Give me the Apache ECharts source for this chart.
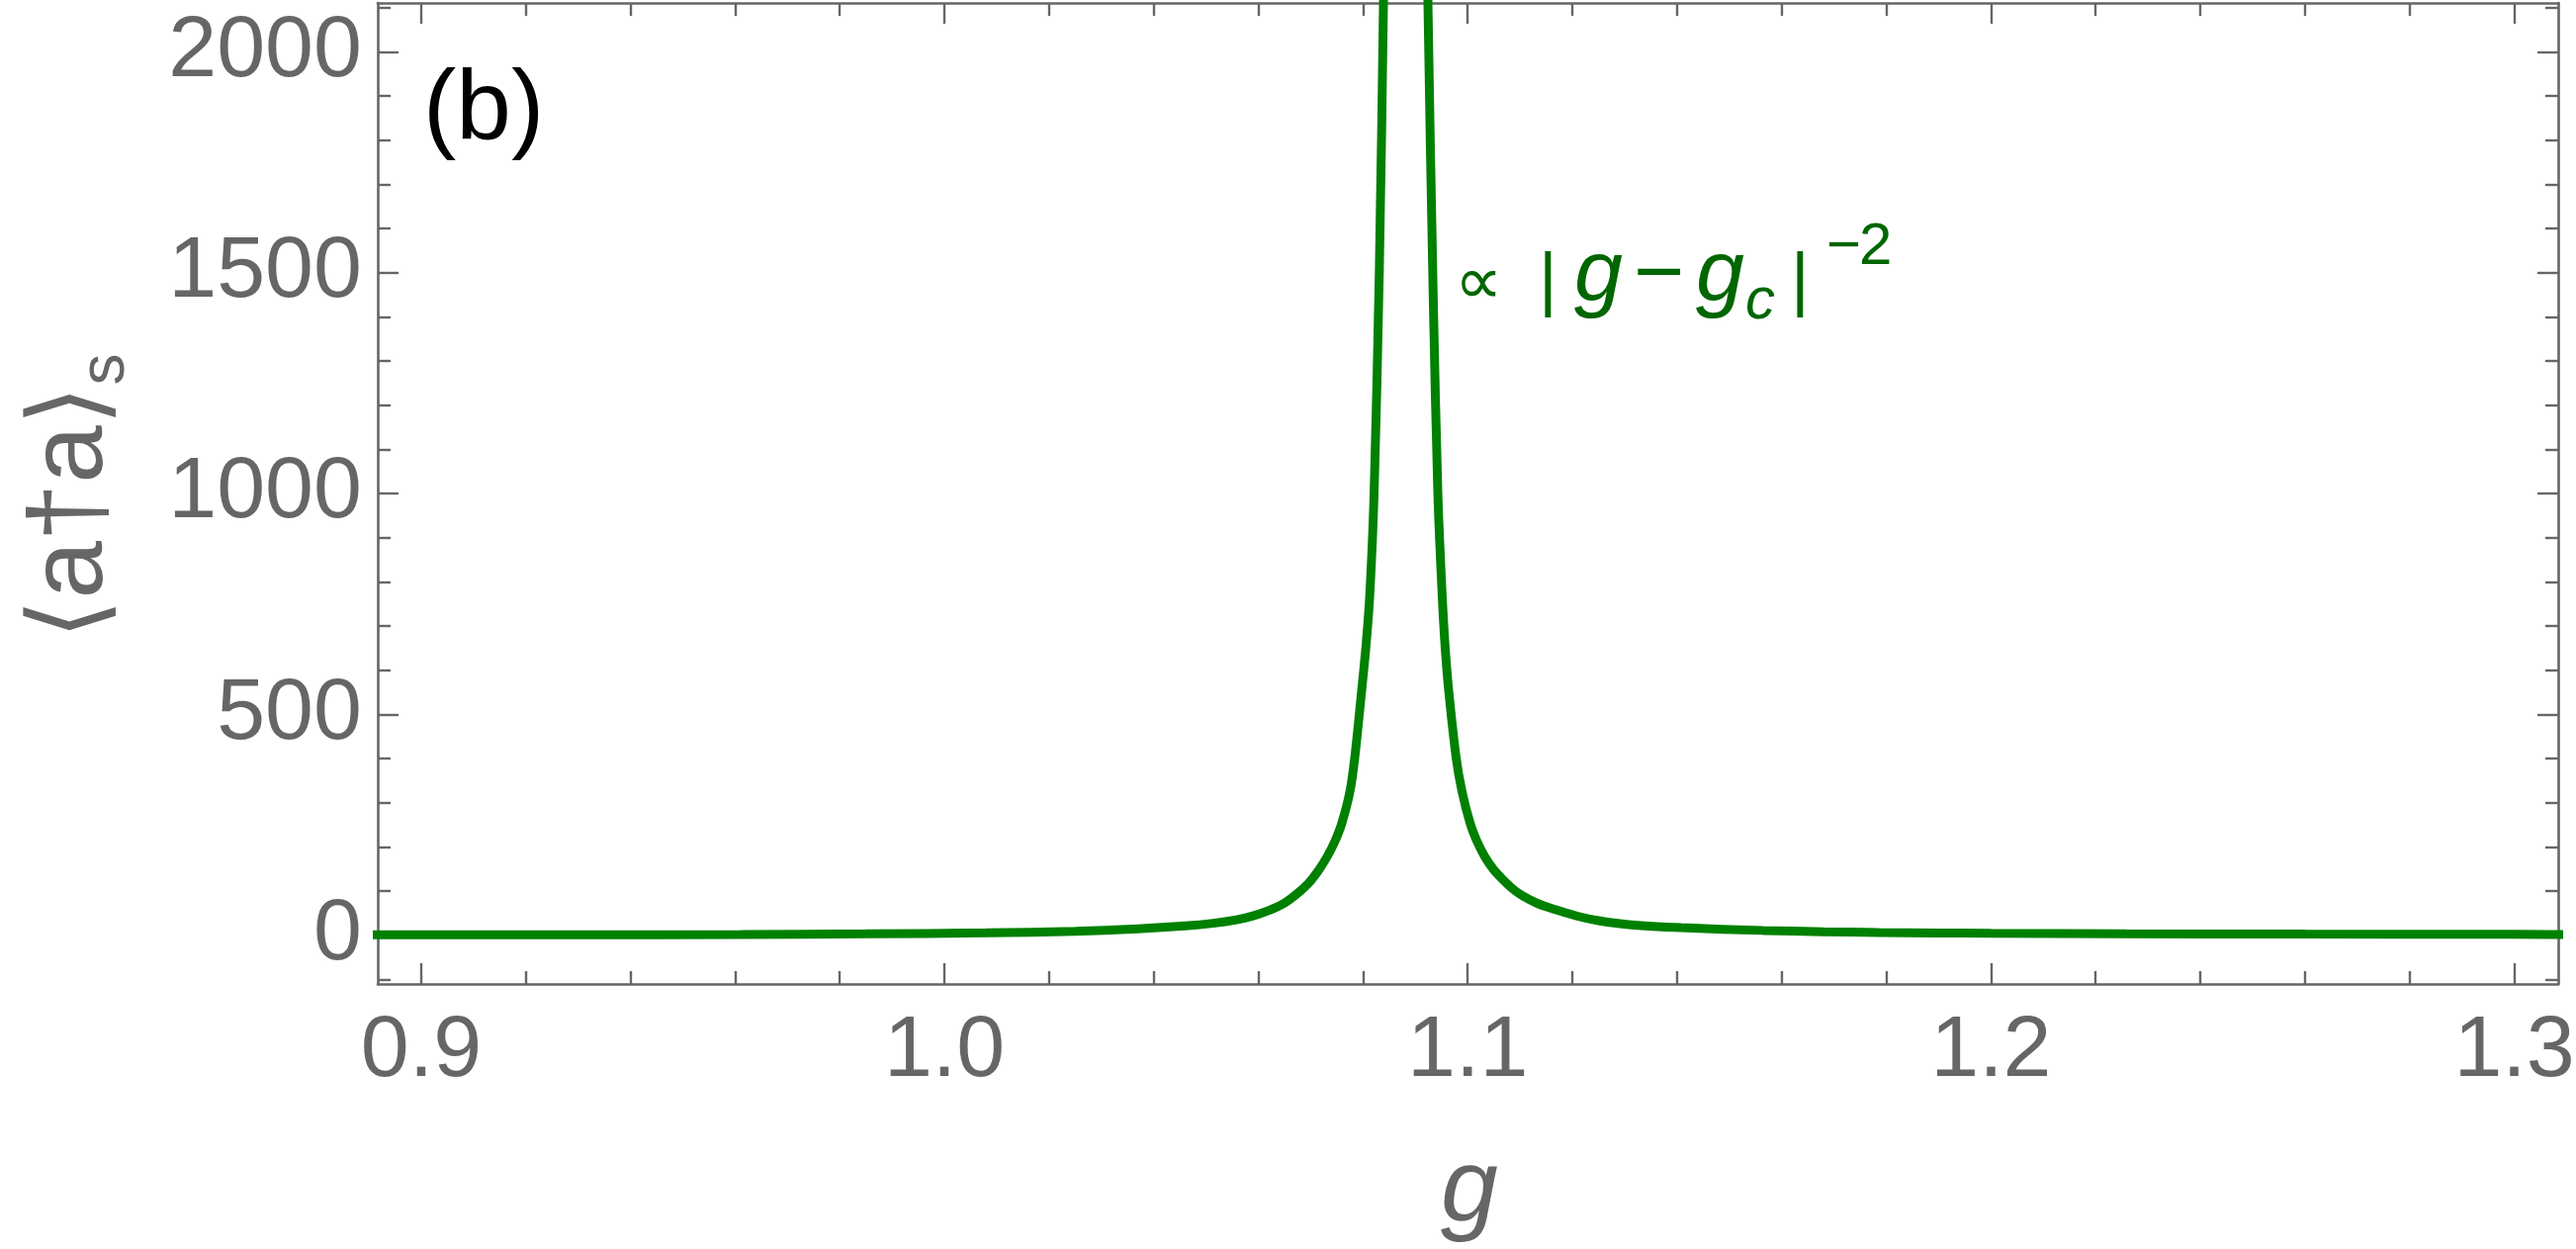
<!DOCTYPE html>
<html>
<head>
<meta charset="utf-8">
<title>g chart</title>
<script src="https://cdn.jsdelivr.net/npm/echarts@6/dist/echarts.min.js"></script>
<style>
html, body { margin: 0; padding: 0; background: #fff; }
#main { width: 2605px; height: 1263px; }
</style>
</head>
<body>
<div id="main"></div>
<script>
// values (left and right of the divergence)
var gLeft = [0.8850, 0.9000, 0.9300, 0.9610, 0.9850, 1.0080, 1.0250, 1.0370, 1.0460, 1.0513,
             1.0558, 1.0590, 1.0620, 1.0650, 1.0675, 1.0696, 1.0715, 1.0731, 1.0746, 1.0759,
             1.0775, 1.0784, 1.0797, 1.0806, 1.0813, 1.0821, 1.0831, 1.0839, 1.0845];
var nLeft = [0.7, 0.8, 1.1, 1.6, 3, 5.3, 9, 14.5, 21, 27,
             35, 44, 56, 73, 95, 118, 147, 177, 212, 252,
             326, 401, 550, 660, 774, 998, 1500, 2111, 2700];
var gRight = [1.0918, 1.0924, 1.0934, 1.0943, 1.0951, 1.0957, 1.0964, 1.0978, 1.0989, 1.1005,
              1.1018, 1.1033, 1.1050, 1.1068, 1.1085, 1.1105, 1.1135, 1.1168, 1.1210, 1.1250,
              1.1313, 1.1408, 1.1565, 1.1680, 1.1786, 1.1900, 1.2000, 1.2258, 1.2600, 1.3000,
              1.3150];
var nRight = [2700, 2111, 1450, 998, 774, 650, 550, 401, 326, 252,
              212, 177, 148, 125, 106, 89, 71, 58, 43, 33,
              23.5, 17, 10.8, 8.0, 6.3, 5.1, 4.4, 3.3, 2.5, 1.9,
              1.7];

var xTicks = [0.9, 1.0, 1.1, 1.2, 1.3];
var xMinor = [0.92, 0.94, 0.96, 0.98, 1.02, 1.04, 1.06, 1.08, 1.12, 1.14, 1.16, 1.18,
              1.22, 1.24, 1.26, 1.28];
var yTicks = [0, 500, 1000, 1500, 2000];
var yMinor = [-100, 100, 200, 300, 400, 600, 700, 800, 900, 1100, 1200, 1300, 1400,
              1600, 1700, 1800, 1900, 2100];

var X_MIN = 0.8917, X_MAX = 1.3084;
var Y_MIN = -110.4, Y_MAX = 2111;
var GRAY = '#666666';
var TXT_GREEN = '#006600';
var FONT = "'Liberation Sans', 'DejaVu Sans', sans-serif";

function makeAxis(kind, pos, ticks, len, withLine, withLabel) {
	var ax = {
		type: 'value',
		position: pos,
		min: kind == 'x' ? X_MIN : Y_MIN,
		max: kind == 'x' ? X_MAX : Y_MAX,
		axisLine: { show: withLine, onZero: false, lineStyle: { color: GRAY, width: 2.6 } },
		axisTick: { show: true, inside: true, length: len, customValues: ticks,
		            lineStyle: { color: GRAY, width: 2.4 } },
		axisLabel: { show: false },
		splitLine: { show: false }
	};
	if (withLabel) {
		ax.axisLabel = {
			show: true,
			customValues: ticks,
			color: GRAY,
			fontSize: 88,
			fontFamily: FONT,
			margin: kind == 'x' ? 25 : 16,
			formatter: kind == 'x' ? function (v) { return v.toFixed(1); } : function (v) { return '' + v; }
		};
	}
	return ax;
}

// text piece placed by its baseline
function piece(str, x, base, size, italic, color, family) {
	return {
		type: 'text', x: x, y: base - 0.33 * size,
		style: { text: str, fill: color, fontSize: size, fontFamily: family || FONT,
		         fontStyle: italic ? 'italic' : 'normal', align: 'left', verticalAlign: 'middle' }
	};
}

var seriesData = [];
for (var i = 0; i < gLeft.length; i++) seriesData.push([gLeft[i], nLeft[i]]);
seriesData.push([null, null]);
for (var j = 0; j < gRight.length; j++) seriesData.push([gRight[j], nRight[j]]);

var chart = echarts.init(document.getElementById('main'));
var option = {
	animation: false,
	backgroundColor: '#ffffff',
	grid: { left: 382, top: 3, right: 18, bottom: 268, containLabel: false, outerBoundsMode: 'none' },
	xAxis: [
		makeAxis('x', 'bottom', xTicks, 21, true, true),
		makeAxis('x', 'bottom', xMinor, 13, false, false),
		makeAxis('x', 'top', xTicks, 21, true, false),
		makeAxis('x', 'top', xMinor, 13, false, false)
	],
	yAxis: [
		makeAxis('y', 'left', yTicks, 21, true, true),
		makeAxis('y', 'left', yMinor, 13, false, false),
		makeAxis('y', 'right', yTicks, 21, true, false),
		makeAxis('y', 'right', yMinor, 13, false, false)
	],
	series: [{
		type: 'line',
		xAxisIndex: 0,
		yAxisIndex: 0,
		data: seriesData,
		showSymbol: false,
		symbol: 'none',
		smooth: 0.3,
		connectNulls: false,
		clip: true,
		lineStyle: { color: '#008000', width: 9 }
	}],
	graphic: [
		piece('(b)', 428, 146, 100, false, '#000'),
		{
			type: 'text', x: 1486, y: 1205,
			style: { text: 'g', fill: GRAY, fontSize: 104, fontStyle: 'italic', fontFamily: FONT,
			         align: 'center', verticalAlign: 'middle' }
		},
		{
			type: 'text', x: 74, y: 502, rotation: Math.PI / 2,
			style: {
				text: '{m|⟨a†a⟩}{s|s}',
				align: 'center', verticalAlign: 'middle',
				rich: {
					m: { fill: GRAY, fontSize: 105, fontFamily: FONT },
					s: { fill: GRAY, fontSize: 64, fontFamily: FONT, padding: [66, 0, 0, 0] }
				}
			}
		},
		// ∝ |g − g_c|^-2
		piece('∝', 1471, 312, 68, false, TXT_GREEN, "'DejaVu Sans', sans-serif"),
		piece('|', 1556, 310, 72, false, TXT_GREEN),
		piece('g', 1592, 309, 88, true, TXT_GREEN),
		piece('−', 1652, 309, 88, false, TXT_GREEN),
		piece('g', 1715, 309, 88, true, TXT_GREEN),
		piece('c', 1765, 325, 60, true, TXT_GREEN),
		piece('|', 1811, 310, 72, false, TXT_GREEN),
		piece('−', 1847, 270, 60, false, TXT_GREEN),
		piece('2', 1880, 270, 60, false, TXT_GREEN)
	]
};
chart.setOption(option);
window.onresize = chart.resize;
</script>
</body>
</html>
